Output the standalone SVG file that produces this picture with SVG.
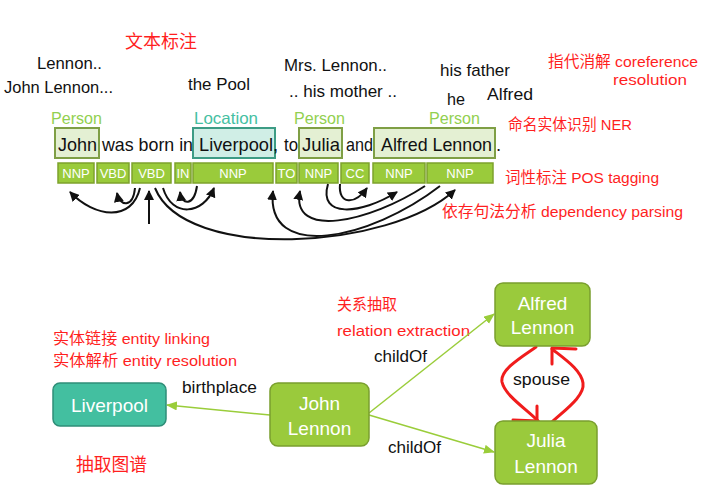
<svg xmlns="http://www.w3.org/2000/svg" width="704" height="491" viewBox="0 0 704 491">
<style>
text{font-family:"Liberation Sans","Noto Sans CJK SC",sans-serif}
.blk{fill:#111;font-size:17px}
.red{fill:#FF1F1F;font-size:15.5px}
.grn{fill:#92D050;font-size:16.5px}
.teal{fill:#45C0A2;font-size:16.5px}
.sent{fill:#111;font-size:18.5px}
.tag rect{fill:#9ACB3B;stroke:#7DA22C;stroke-width:1.5}
.tag text{fill:#fff;font-size:13px;text-anchor:middle}
.ent{fill:#E4F0D3;stroke:#7F9F45;stroke-width:2}
.loc{fill:#D0EEE6;stroke:#3D9C85;stroke-width:2}
.dep{fill:none;stroke:#111;stroke-width:2;marker-end:url(#ah)}
.node rect{stroke-width:1.5}
.gnode rect{fill:#9ACA3C;stroke:#7A9F2E}
.tnode rect{fill:#43BFA0;stroke:#2F8E78}
.node text{fill:#fff;font-size:19px;text-anchor:middle}
.rel{fill:none;stroke:#9ACD3A;stroke-width:1.5;marker-end:url(#ga)}
.sp{fill:none;stroke:#F01C1C;stroke-width:3;stroke-linecap:round}
</style>
<defs>
<marker id="ah" markerUnits="userSpaceOnUse" markerWidth="11" markerHeight="10" refX="9" refY="5" orient="auto"><path d="M0,0 L10,5 L0,10 z" fill="#111"/></marker>
<marker id="ga" markerUnits="userSpaceOnUse" markerWidth="11" markerHeight="10" refX="10" refY="4.5" orient="auto"><path d="M0,0 L11,4.5 L0,9 z" fill="#9ACD3A"/></marker>
</defs>
<rect width="704" height="491" fill="#fff"/>

<g id="annotations">
<text class="red" x="125" y="48" style="font-size:18px" textLength="72" lengthAdjust="spacingAndGlyphs">文本标注</text>
<text class="blk" x="37" y="69" textLength="65" lengthAdjust="spacingAndGlyphs">Lennon..</text>
<text class="blk" x="4" y="93" textLength="109" lengthAdjust="spacingAndGlyphs">John Lennon...</text>
<text class="blk" x="188" y="90" textLength="62" lengthAdjust="spacingAndGlyphs">the Pool</text>
<text class="blk" x="284" y="71" textLength="103" lengthAdjust="spacingAndGlyphs">Mrs. Lennon..</text>
<text class="blk" x="289" y="97" textLength="108" lengthAdjust="spacingAndGlyphs">.. his mother ..</text>
<text class="blk" x="440" y="76" textLength="70" lengthAdjust="spacingAndGlyphs">his father</text>
<text class="blk" x="447" y="105" textLength="18" lengthAdjust="spacingAndGlyphs">he</text>
<text class="blk" x="487" y="100" textLength="46" lengthAdjust="spacingAndGlyphs">Alfred</text>
<text class="red" x="548" y="67" textLength="150" lengthAdjust="spacingAndGlyphs">指代消解 coreference</text>
<text class="red" x="613" y="85" textLength="74" lengthAdjust="spacingAndGlyphs">resolution</text>
<text class="red" x="508" y="130" textLength="124" lengthAdjust="spacingAndGlyphs">命名实体识别 NER</text>
<text class="red" x="505" y="183" textLength="154" lengthAdjust="spacingAndGlyphs">词性标注 POS tagging</text>
<text class="red" x="442" y="217" textLength="241" lengthAdjust="spacingAndGlyphs">依存句法分析 dependency parsing</text>
<text class="grn" x="51" y="124" textLength="51" lengthAdjust="spacingAndGlyphs">Person</text>
<text class="teal" x="194" y="124" textLength="64" lengthAdjust="spacingAndGlyphs">Location</text>
<text class="grn" x="294" y="124" textLength="51" lengthAdjust="spacingAndGlyphs">Person</text>
<text class="grn" x="429" y="124" textLength="51" lengthAdjust="spacingAndGlyphs">Person</text>
</g>

<g id="sentence">
<rect class="ent" x="55" y="128" width="44" height="30"/>
<rect class="loc" x="193" y="128" width="82" height="30"/>
<rect class="ent" x="299" y="128" width="43" height="30"/>
<rect class="ent" x="374" y="128" width="121" height="30"/>
<text class="sent" x="58" y="151" textLength="39" lengthAdjust="spacingAndGlyphs">John</text>
<text class="sent" x="102" y="151" textLength="91" lengthAdjust="spacingAndGlyphs">was born in</text>
<text class="sent" x="199" y="151" textLength="74" lengthAdjust="spacingAndGlyphs">Liverpool</text>
<text class="sent" x="273" y="151">,</text>
<text class="sent" x="284" y="151" textLength="14" lengthAdjust="spacingAndGlyphs">to</text>
<text class="sent" x="302" y="151" textLength="38" lengthAdjust="spacingAndGlyphs">Julia</text>
<text class="sent" x="346" y="151" textLength="27" lengthAdjust="spacingAndGlyphs">and</text>
<text class="sent" x="381" y="151" textLength="111" lengthAdjust="spacingAndGlyphs">Alfred Lennon</text>
<text class="sent" x="496" y="151">.</text>
</g>

<g id="pos-tags">
<g id="tag1" class="tag"><rect x="58" y="163" width="36" height="20"/><text x="76" y="178">NNP</text></g>
<g id="tag2" class="tag"><rect x="97" y="163" width="32" height="20"/><text x="113" y="178">VBD</text></g>
<g id="tag3" class="tag"><rect x="132" y="163" width="39" height="20"/><text x="151.5" y="178">VBD</text></g>
<g id="tag4" class="tag"><rect x="175" y="163" width="16" height="20"/><text x="183" y="178">IN</text></g>
<g id="tag5" class="tag"><rect x="193" y="163" width="80" height="20"/><text x="233" y="178">NNP</text></g>
<g id="tag6" class="tag"><rect x="276" y="163" width="21" height="20"/><text x="286.5" y="178">TO</text></g>
<g id="tag7" class="tag"><rect x="299" y="163" width="39" height="20"/><text x="318.5" y="178">NNP</text></g>
<g id="tag8" class="tag"><rect x="341" y="163" width="28" height="20"/><text x="355" y="178">CC</text></g>
<g id="tag9" class="tag"><rect x="373" y="163" width="52" height="20"/><text x="399" y="178">NNP</text></g>
<g id="tag10" class="tag"><rect x="427" y="163" width="66" height="20"/><text x="460" y="178">NNP</text></g>
</g>

<g id="dependencies">
<path class="dep" d="M140,188 C132,222 95,218 70,192"/>
<path class="dep" d="M135,188 C133,208 120,207 117,193"/>
<path class="dep" d="M149,224 L149,191"/>
<path class="dep" d="M163,188 C172,218 203,215 214,188"/>
<path class="dep" d="M197,186 C194,206 182,206 180,192"/>
<path class="dep" d="M155,188 C185,262 390,250 455,190"/>
<path class="dep" d="M440,186 C370,240 265,262 273,191"/>
<path class="dep" d="M425,186 C370,222 290,240 300,191"/>
<path class="dep" d="M328,184 C318,218 360,215 397,192"/>
<path class="dep" d="M340,184 C338,205 355,205 367,188"/>
</g>

<g id="graph-labels">
<text class="red" x="53" y="344" textLength="157" lengthAdjust="spacingAndGlyphs">实体链接 entity linking</text>
<text class="red" x="53" y="366" textLength="184" lengthAdjust="spacingAndGlyphs">实体解析 entity resolution</text>
<text class="red" x="76" y="471" style="font-size:18px" textLength="71" lengthAdjust="spacingAndGlyphs">抽取图谱</text>
<text class="red" x="337" y="310" textLength="60" lengthAdjust="spacingAndGlyphs">关系抽取</text>
<text class="red" x="337" y="336" textLength="133" lengthAdjust="spacingAndGlyphs">relation extraction</text>
<text class="blk" x="182" y="393" textLength="75" lengthAdjust="spacingAndGlyphs">birthplace</text>
<text class="blk" x="374" y="362" textLength="53" lengthAdjust="spacingAndGlyphs">childOf</text>
<text class="blk" x="388" y="453" textLength="53" lengthAdjust="spacingAndGlyphs">childOf</text>
<text class="blk" x="513" y="385" textLength="57" lengthAdjust="spacingAndGlyphs">spouse</text>
</g>

<g id="relations">
<path class="rel" d="M270,415 L167,405"/>
<path class="rel" d="M369,413 L494,314"/>
<path class="rel" d="M369,415 L494,452"/>
<path class="sp" d="M536,347 C520,358 500,370 502,382 C505,396 528,410 538,421"/>
<path class="sp" d="M537,406 L537,424 M513,420 L538,421"/>
<path class="sp" d="M552,422 C565,410 585,396 583,383 C581,370 566,360 552,349"/>
<path class="sp" d="M552,348 L552,364 M552,348 L576,349"/>
</g>

<g id="node-liverpool" class="node tnode"><rect x="53" y="383" width="113" height="43" rx="7"/><text x="109.5" y="412">Liverpool</text></g>
<g id="node-john" class="node gnode"><rect x="270" y="383" width="99" height="63" rx="8"/><text x="319.5" y="410">John</text><text x="319.5" y="435">Lennon</text></g>
<g id="node-alfred" class="node gnode"><rect x="495" y="283" width="95" height="63" rx="8"/><text x="542.5" y="310">Alfred</text><text x="542.5" y="334">Lennon</text></g>
<g id="node-julia" class="node gnode"><rect x="495" y="421" width="102" height="63" rx="8"/><text x="546" y="447">Julia</text><text x="546" y="473">Lennon</text></g>
</svg>
